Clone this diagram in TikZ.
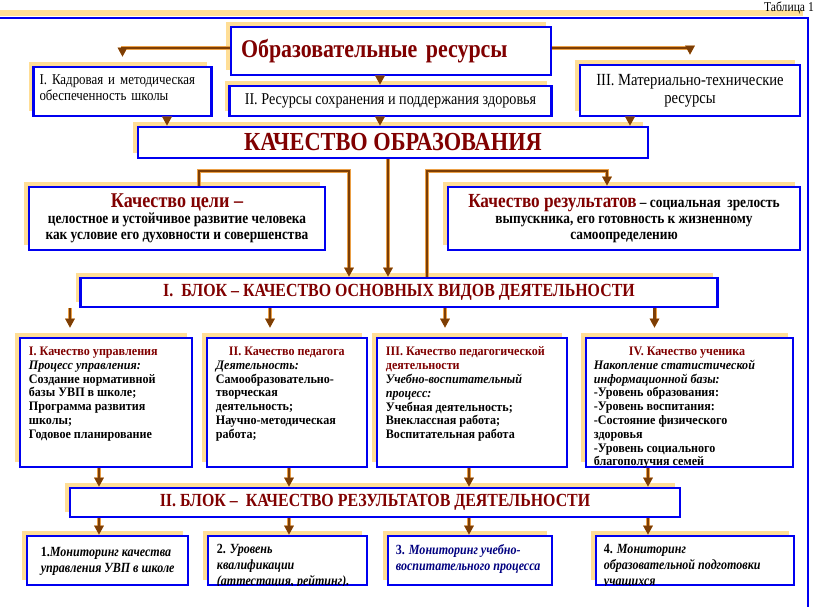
\documentclass[tikz,border=0pt]{standalone}
\usepackage{fontspec}
\setmainfont{Liberation Serif}
\newfontfamily\narrowfont[FakeStretch=0.86]{Liberation Serif}
\newfontfamily\boxfont[FakeStretch=0.93]{Liberation Serif}
\usepackage{xcolor}
\usetikzlibrary{arrows.meta, shadows}

\definecolor{frameblue}{RGB}{0,0,240}
\definecolor{darkred}{RGB}{128,0,0}
\definecolor{navyblue}{RGB}{0,0,128}
\definecolor{pipebrown}{RGB}{125,62,5}
\definecolor{pipeglow}{RGB}{235,160,70}
\definecolor{glow}{RGB}{255,222,150}

\begin{document}
\begin{tikzpicture}[x=1pt, y=-1pt,
    box/.style={draw=frameblue, line width=2.6pt, fill=white, inner sep=3pt,
        drop shadow={shadow xshift=-5pt, shadow yshift=5pt, fill=glow, opacity=1}},
    boxtext/.style={anchor=north west, inner sep=0pt, align=left, font=\boxfont\bfseries\fontsize{13}{13.8}\selectfont},
    montext/.style={anchor=north west, inner sep=0pt, align=left, font=\narrowfont\bfseries\itshape\fontsize{14}{16}\selectfont},
    blocktitle/.style={text=darkred, font=\narrowfont\bfseries\fontsize{18.5}{20}\selectfont},
    topnote/.style={font=\narrowfont\fontsize{15}{16}\selectfont},
    arrow/.style={draw=pipebrown, line width=2.2pt, -{Triangle[width=9pt,length=9pt]},
        preaction={draw=pipeglow, line width=4pt}},
    pipe/.style={draw=pipebrown, line width=2.2pt, preaction={draw=pipeglow, line width=4pt}}
]
\useasboundingbox (0,0) rectangle (816,606);

% outer frame
\fill[glow] (0,10) rectangle (803,16);
\draw[frameblue, line width=2.6pt] (0,18) -| (808,610);
\node[anchor=north east, inner sep=0pt, font=\narrowfont\fontsize{13.5}{14}\selectfont] (tabl) at (814,2) {Таблица 1};

% resources
\node[box, minimum width=320pt, minimum height=48pt, text=darkred, text width=300pt, align=left,
    font=\narrowfont\bfseries\fontsize{25.5}{28}\selectfont] (res) at (391,51) {Образовательные ресурсы};
\node[box, topnote, minimum width=178pt, minimum height=49pt, text width=166pt, align=left] (kadr) at (122.5,91.5)
    {I. Кадровая и методическая\\обеспеченность школы\\[-9pt]\mbox{}};
\node[box, topnote, minimum width=322pt, minimum height=30pt, font=\narrowfont\fontsize{16.5}{18}\selectfont] (zdor) at (390.5,101)
    {II. Ресурсы сохранения и поддержания здоровья};
\node[box, topnote, minimum width=220pt, minimum height=51pt, align=center, font=\narrowfont\fontsize{17}{18}\selectfont] (mat) at (690,90.5)
    {III. Материально-технические\\ресурсы};

\node[box, minimum width=510pt, minimum height=31pt, text=darkred,
    font=\narrowfont\bfseries\fontsize{26}{28}\selectfont] (kach) at (393,142.5) {КАЧЕСТВО ОБРАЗОВАНИЯ};

\node[box, minimum width=296pt, minimum height=63pt, align=center,
    font=\narrowfont\bfseries\fontsize{15.5}{16}\selectfont] (cel) at (177,218.5)
    {{\color{darkred}\fontsize{21}{22}\selectfont Качество цели –}\\целостное и устойчивое развитие человека\\как условие его духовности и совершенства};
\node[box, minimum width=352pt, minimum height=63pt, align=center,
    font=\narrowfont\bfseries\fontsize{15.5}{16}\selectfont] (rez) at (624,218.5)
    {{\color{darkred}\fontsize{20}{21}\selectfont Качество результатов} – социальная\ \ зрелость\\выпускника, его готовность к жизненному\\самоопределению};

\node[box, blocktitle, minimum width=637pt, minimum height=29pt] (blok1) at (399,292.5)
    {I.\ \ БЛОК – КАЧЕСТВО ОСНОВНЫХ ВИДОВ ДЕЯТЕЛЬНОСТИ};

% kinds of activity
\node[box, minimum width=172pt, minimum height=129pt] (upr) at (106,402.5) {};
\node[box, minimum width=160pt, minimum height=129pt] (ped) at (287,402.5) {};
\node[box, minimum width=190pt, minimum height=129pt] (pdd) at (472,402.5) {};
\node[box, minimum width=207pt, minimum height=129pt] (uch) at (689.5,402.5) {};

\node[boxtext] (uprtext) at ([shift={(10,10)}]upr.north west)
    {{\color{darkred}I. Качество управления}\\\textit{Процесс управления:}\\Создание нормативной\\базы УВП в школе;\\Программа развития\\школы;\\Годовое планирование};
\node[boxtext] (pedtext) at ([shift={(10,10)}]ped.north west)
    {\hspace*{13pt}{\color{darkred}II. Качество педагога}\\\textit{Деятельность:}\\Самообразовательно-\\творческая\\деятельность;\\Научно-методическая\\работа;};
\node[boxtext] (pddtext) at ([shift={(10,10)}]pdd.north west)
    {{\color{darkred}III. Качество педагогической}\\{\color{darkred}деятельности}\\\textit{Учебно-воспитательный}\\\textit{процесс:}\\Учебная деятельность;\\Внеклассная работа;\\Воспитательная работа};
\begin{scope}
\clip ([shift={(1.3,1.3)}]uch.north west) rectangle ([shift={(-1.3,-1.3)}]uch.south east);
\node[boxtext] (uchtext) at ([shift={(9,10)}]uch.north west)
    {\hspace*{35pt}{\color{darkred}IV. Качество ученика}\\\textit{Накопление статистической}\\\textit{информационной базы:}\\-Уровень образования:\\-Уровень воспитания:\\-Состояние физического\\здоровья\\-Уровень социального\\благополучия семей};
\end{scope}

\node[box, blocktitle, minimum width=610pt, minimum height=29pt] (blok2) at (375,502.5)
    {II. БЛОК –\ \ КАЧЕСТВО РЕЗУЛЬТАТОВ ДЕЯТЕЛЬНОСТИ};

% monitoring
\node[box, minimum width=161pt, minimum height=49pt] (mon1) at (107.5,560.5) {};
\node[box, minimum width=159pt, minimum height=49pt] (mon2) at (287.5,560.5) {};
\node[box, minimum width=164pt, minimum height=49pt] (mon3) at (470,560.5) {};
\node[box, minimum width=198pt, minimum height=49pt] (mon4) at (695,560.5) {};

\node[montext] (mon1text) at ([shift={(15,12)}]mon1.north west)
    {\textup{1.}Мониторинг качества\\управления УВП в школе};
\begin{scope}
\clip ([shift={(1.3,1.3)}]mon2.north west) rectangle ([shift={(-1.3,-1.3)}]mon2.south east);
\node[montext] (mon2text) at ([shift={(10,9)}]mon2.north west)
    {\textup{2.} Уровень\\квалификации\\(аттестация, рейтинг).};
\end{scope}
\node[montext, text=navyblue] (mon3text) at ([shift={(9,10)}]mon3.north west)
    {\textup{3.} Мониторинг учебно-\\воспитательного процесса};
\begin{scope}
\clip ([shift={(1.3,1.3)}]mon4.north west) rectangle ([shift={(-1.3,-1.3)}]mon4.south east);
\node[montext] (mon4text) at ([shift={(9,9)}]mon4.north west)
    {\textup{4.} Мониторинг\\образовательной подготовки\\учащихся};
\end{scope}

% connectors
\draw[arrow, shorten >=9pt] ([yshift=3pt]res.west) -| (kadr.north);
\draw[arrow, shorten >=9pt] ([yshift=3pt]res.east) -| (mat.north);
\coordinate (r0) at ([xshift=-11pt]res.south);
\draw[arrow] (r0) -- (r0 |- zdor.north);

\coordinate (k1) at ([xshift=44.5pt]kadr.south);
\coordinate (k2) at ([xshift=-10.5pt]zdor.south);
\coordinate (k3) at ([xshift=-60pt]mat.south);
\foreach \k in {k1,k2,k3}
    \draw[arrow] (\k) -- (\k |- kach.north);

\coordinate (q0) at ([xshift=-5pt]kach.south);
\coordinate (c1) at ([xshift=22pt]cel.north);
\coordinate (c2) at ([xshift=-44pt, yshift=-12pt]kach.south);
\coordinate (e1) at ([xshift=34pt, yshift=-12pt]kach.south);
\draw[arrow] (q0) -- (q0 |- blok1.north);
\draw[arrow] (c1) |- (c2) -- (c2 |- blok1.north);
\draw[arrow] (e1 |- blok1.north) -- (e1) -| ([xshift=-17pt]rez.north);

\coordinate (a1) at ([xshift=-36pt]upr.north);
\coordinate (a2) at ([xshift=-17pt]ped.north);
\coordinate (a3) at ([xshift=-27pt]pdd.north);
\coordinate (a4) at ([xshift=-35pt]uch.north);
\foreach \a in {a1,a2,a3,a4}
    \draw[arrow, shorten >=9pt] (\a |- blok1.south) -- (\a);

\coordinate (b1) at ([xshift=-7pt]upr.south);
\coordinate (b2) at ([xshift=2pt]ped.south);
\coordinate (b3) at ([xshift=-3pt]pdd.south);
\coordinate (b4) at ([xshift=-41.5pt]uch.south);
\foreach \b in {b1,b2,b3,b4} {
    \draw[arrow] (\b) -- (\b |- blok2.north);
    \draw[arrow] (\b |- blok2.south) -- (\b |- mon1.north);
}

\end{tikzpicture}
\end{document}
